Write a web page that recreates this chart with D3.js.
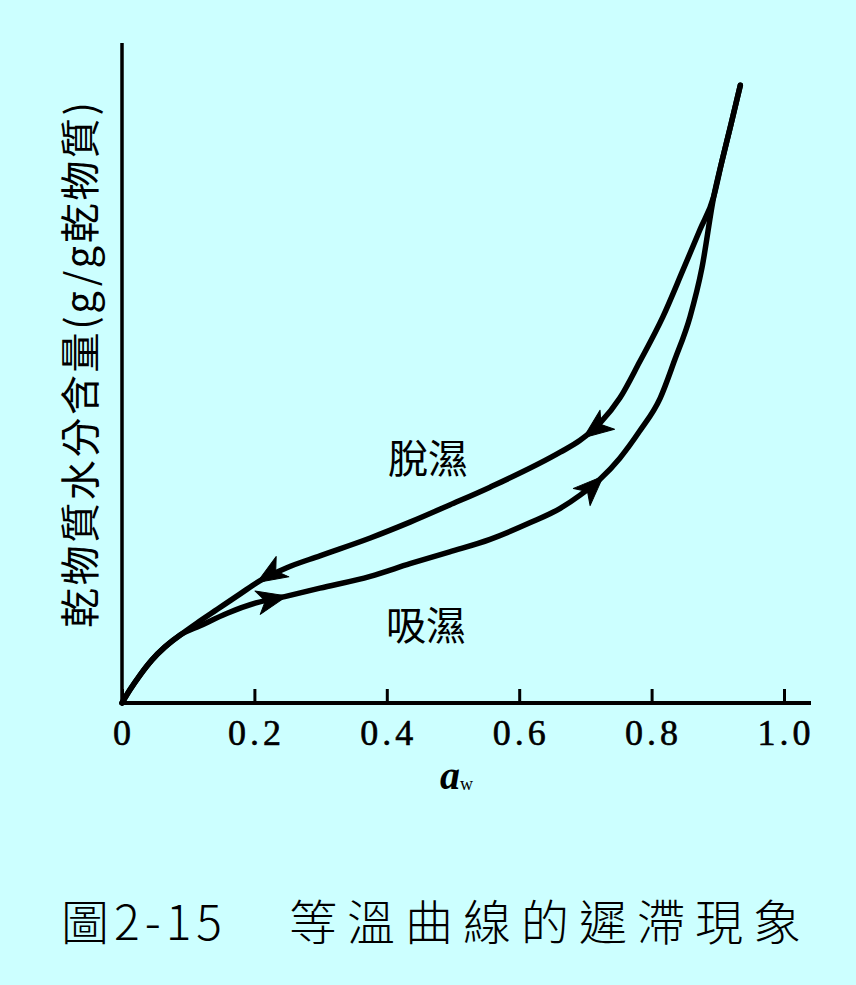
<!DOCTYPE html>
<html><head><meta charset="utf-8">
<script src="https://cdn.jsdelivr.net/npm/d3@7"></script>
<style>body{margin:0;background:#CCFFFF;} svg{display:block}</style>
</head><body>
<svg id="chart" width="856" height="985"></svg>
<script>
// ---- data ----
const awTicks = [0, 0.2, 0.4, 0.6, 0.8, 1.0];
const tickLabels = ["0", "0.2", "0.4", "0.6", "0.8", "1.0"];
// desorption (upper branch)
const desorptionAw = [0,0.012,0.027,0.045,0.065,0.088,0.113,0.144,0.178,0.208,0.249,0.299,0.375,0.435,0.495,0.556,0.662,0.692,0.722,0.752,0.782,0.817,0.847,0.873,0.894,0.906,0.920,0.934];
const desorptionM  = [0,2.0,4.2,6.5,8.5,10.3,12.1,14.2,16.5,18.5,20.5,22.3,25.0,27.4,30.0,32.7,38.0,39.8,42.4,46.2,51.7,58.5,65.5,71.7,76.8,82.0,87.7,93.6];
// adsorption (lower branch)
const adsorptionAw = [0,0.012,0.027,0.045,0.065,0.088,0.118,0.159,0.204,0.249,0.299,0.375,0.435,0.495,0.556,0.616,0.662,0.692,0.722,0.752,0.782,0.813,0.835,0.858,0.876,0.894,0.906,0.920,0.934];
const adsorptionM  = [0,2.0,4.2,6.5,8.5,10.3,11.7,13.6,15.2,16.2,17.4,19.2,21.1,22.9,24.8,27.3,29.5,31.5,33.9,37.1,41.2,46.2,52.0,58.5,65.9,76.8,82.0,87.7,93.6];
const desorptionArrowAw = [0.204, 0.697];
const adsorptionArrowAw = [0.249, 0.727];
const labelDesorption = "脫濕";
const labelAdsorption = "吸濕";
const yLabel = "乾物質水分含量(g/g乾物質)";
const titleA = "圖2-15";
const titleB = "等溫曲線的遲滯現象";

// ---- chart ----
const svg = d3.select("#chart");
svg.append("rect").attr("width", 856).attr("height", 985).attr("fill", "#CCFFFF");

const x = d3.scaleLinear().domain([0, 1]).range([122, 784]);
const y = d3.scaleLinear().domain([0, 100]).range([703, 43]);

const line = d3.line().x(d => x(d[0])).y(d => y(d[1])).curve(d3.curveMonotoneX);

const desData = desorptionAw.map((a, i) => [a, desorptionM[i]]);
const adsData = adsorptionAw.map((a, i) => [a, adsorptionM[i]]);

const g = svg.append("g");
const desPath = g.append("path").datum(desData).attr("d", line)
  .attr("fill", "none").attr("stroke", "#000").attr("stroke-width", 5.5).attr("stroke-linecap", "round").attr("stroke-linejoin", "round");
const adsPath = g.append("path").datum(adsData).attr("d", line)
  .attr("fill", "none").attr("stroke", "#000").attr("stroke-width", 5.5).attr("stroke-linecap", "round").attr("stroke-linejoin", "round");

// axes
const xAxis = d3.axisBottom(x).tickValues(awTicks).tickSize(-14).tickFormat("");
const xg = svg.append("g").attr("transform", `translate(0,${y(0)})`).call(xAxis);
xg.select(".domain").attr("d", `M${x(0)},0H811`).attr("stroke", "#000").attr("stroke-width", 4);
xg.selectAll(".tick line").attr("stroke", "#000").attr("stroke-width", 3);

svg.append("line").attr("x1", x(0)).attr("x2", x(0)).attr("y1", y(100)).attr("y2", y(0) + 2)
  .attr("stroke", "#000").attr("stroke-width", 3.5);

svg.append("g").selectAll("text").data(awTicks).join("text")
  .attr("x", d => x(d) + 2).attr("y", 745)
  .attr("text-anchor", "middle")
  .attr("font-family", "'Liberation Serif', serif").attr("font-size", 36)
  .attr("stroke", "#000").attr("stroke-width", 0.6)
  .attr("letter-spacing", 4)
  .text((d, i) => tickLabels[i]);

// x label a_w
const xl = svg.append("text").attr("x", 440).attr("y", 789)
  .attr("font-family", "'Liberation Serif', serif");
xl.append("tspan").attr("font-size", 40).attr("font-style", "italic").attr("font-weight", "bold").text("a");
xl.append("tspan").attr("font-size", 18).attr("dy", 1).text("w");

// y label
svg.append("text")
  .attr("transform", "translate(95,365) rotate(-90)")
  .attr("text-anchor", "middle")
  .attr("font-family", "'Noto Sans CJK TC', sans-serif").attr("font-size", 40)
  .attr("textLength", 526).attr("lengthAdjust", "spacing")
  .text(yLabel);

// arrows
function pointAtX(path, px) {
  const node = path.node();
  const L = node.getTotalLength();
  let lo = 0, hi = L;
  for (let k = 0; k < 40; k++) {
    const mid = (lo + hi) / 2;
    if (node.getPointAtLength(mid).x < px) lo = mid; else hi = mid;
  }
  return lo;
}
function drawArrow(path, aw, forward) {
  const node = path.node();
  const len = pointAtX(path, x(aw));
  const p = node.getPointAtLength(len);
  const a = node.getPointAtLength(len - 4), b = node.getPointAtLength(len + 4);
  let ang = Math.atan2(b.y - a.y, b.x - a.x) * 180 / Math.PI;
  if (!forward) ang += 180;
  g.append("path")
    .attr("d", "M0,0L-30,-12L-22,0L-30,12Z")
    .attr("transform", `translate(${p.x},${p.y}) rotate(${ang})`)
    .attr("fill", "#000").attr("stroke", "#000").attr("stroke-width", 1).attr("stroke-linejoin", "round");
}
desorptionArrowAw.forEach(a => drawArrow(desPath, a, false));
adsorptionArrowAw.forEach(a => drawArrow(adsPath, a, true));

// annotations
svg.append("text").attr("x", 428).attr("y", 473).attr("text-anchor", "middle")
  .attr("font-family", "'Noto Sans CJK TC', sans-serif").attr("font-size", 40).text(labelDesorption);
svg.append("text").attr("x", 426).attr("y", 640).attr("text-anchor", "middle")
  .attr("font-family", "'Noto Sans CJK TC', sans-serif").attr("font-size", 40).text(labelAdsorption);

// title
svg.append("text").attr("x", 61).attr("y", 940)
  .attr("font-family", "'Noto Sans CJK TC', sans-serif").attr("font-size", 48).attr("font-weight", 300)
  .attr("letter-spacing", 5).text(titleA);
svg.append("text").attr("x", 289).attr("y", 940)
  .attr("font-family", "'Noto Sans CJK TC', sans-serif").attr("font-size", 48).attr("font-weight", 300)
  .attr("letter-spacing", 10).text(titleB);
</script>
</body></html>
